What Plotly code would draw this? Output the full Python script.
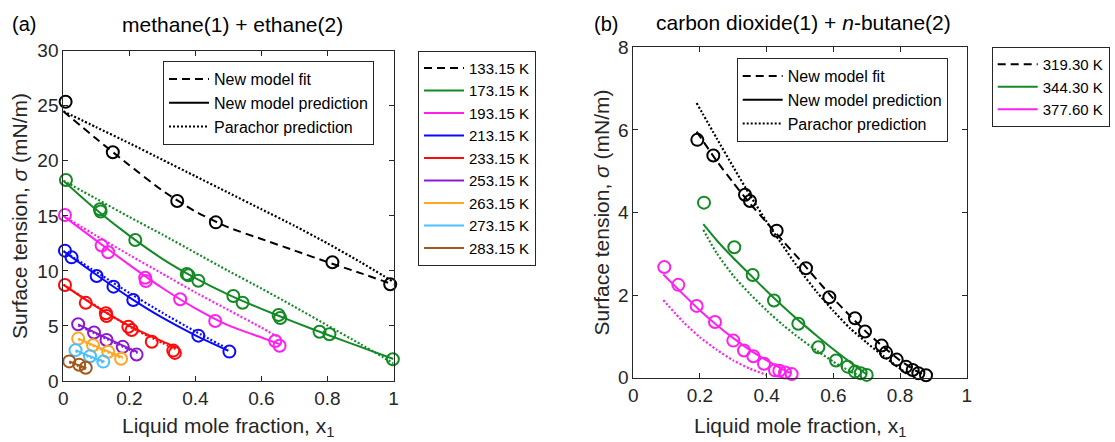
import plotly.graph_objects as go

# ---------------- (a) methane(1) + ethane(2) ----------------
temps_a = ["133.15 K", "173.15 K", "193.15 K", "213.15 K", "233.15 K",
           "253.15 K", "263.15 K", "273.15 K", "283.15 K"]

# experimental points
x133_exp = [0.007, 0.15, 0.345, 0.462, 0.815, 0.99]
s133_exp = [25.37, 20.77, 16.35, 14.41, 10.78, 8.78]
x173_exp = [0.008, 0.111, 0.113, 0.218, 0.374, 0.379, 0.409, 0.515, 0.543, 0.652, 0.657, 0.776, 0.806, 0.998]
s173_exp = [18.26, 15.6, 15.4, 12.8, 9.72, 9.6, 9.1, 7.72, 7.11, 5.99, 5.72, 4.48, 4.24, 1.97]
x193_exp = [0.005, 0.116, 0.136, 0.248, 0.25, 0.354, 0.46, 0.642, 0.655]
s193_exp = [15.08, 12.3, 11.7, 9.38, 9.08, 7.42, 5.45, 3.63, 3.2]
x213_exp = [0.005, 0.025, 0.101, 0.152, 0.212, 0.409, 0.503]
s213_exp = [11.84, 11.23, 9.54, 8.57, 7.36, 4.12, 2.67]
x233_exp = [0.005, 0.068, 0.129, 0.131, 0.197, 0.207, 0.268, 0.333, 0.338]
s233_exp = [8.72, 7.1, 6.15, 5.9, 4.93, 4.63, 3.57, 2.76, 2.55]
x253_exp = [0.045, 0.093, 0.131, 0.18, 0.222]
s253_exp = [5.15, 4.4, 3.72, 3.1, 2.4]
x263_exp = [0.045, 0.09, 0.136, 0.175]
s263_exp = [3.85, 3.25, 2.66, 2.02]
x273_exp = [0.037, 0.081, 0.121]
s273_exp = [2.8, 2.25, 1.76]
x283_exp = [0.018, 0.048, 0.068]
s283_exp = [1.78, 1.48, 1.2]

# model curves (fit at 133.15 K, prediction elsewhere) and Parachor curves
x_full = [0, 0.1, 0.2, 0.3, 0.4, 0.5, 0.6, 0.7, 0.8, 0.9, 1.0]
s133_fit = [24.5, 22.0, 19.6, 17.3, 15.4, 13.95, 12.9, 11.85, 10.8, 9.8, 8.75]
s133_par = [24.5, 23.05, 21.6, 20.1, 18.6, 17.1, 15.6, 14.1, 12.5, 10.8, 9.0]
s173_mod = [18.2, 15.55, 13.2, 11.1, 9.35, 7.85, 6.55, 5.35, 4.2, 3.1, 2.0]
s173_par = [18.2, 16.55, 14.9, 13.3, 11.65, 10.0, 8.4, 6.75, 5.05, 3.35, 1.6]
x193_mod = [0, 0.1, 0.2, 0.3, 0.4, 0.5, 0.6, 0.655]
s193_mod = [15.0, 12.75, 10.55, 8.45, 6.6, 5.05, 3.95, 3.35]
x193_par = [0, 0.1, 0.2, 0.3, 0.4, 0.5, 0.6, 0.647]
s193_par = [15.0, 13.2, 11.45, 9.75, 8.05, 6.45, 4.85, 4.05]
x213_mod = [0, 0.1, 0.2, 0.3, 0.4, 0.5]
s213_mod = [11.8, 9.65, 7.6, 5.75, 4.15, 2.75]
s213_par = [11.8, 9.9, 8.0, 6.2, 4.5, 2.9]
x233_mod = [0, 0.1, 0.2, 0.3, 0.34]
s233_mod = [8.75, 6.75, 5.0, 3.6, 3.1]
s233_par = [8.75, 6.8, 4.95, 3.45, 2.9]
x253_mod = [0.045, 0.1, 0.15, 0.2, 0.225]
s253_mod = [5.15, 4.35, 3.65, 2.95, 2.65]
s253_par = [5.05, 4.25, 3.55, 2.85, 2.55]
x263_mod = [0.045, 0.1, 0.15, 0.18]
s263_mod = [3.85, 3.15, 2.5, 2.15]
s263_par = [3.8, 3.05, 2.4, 2.05]
x273_mod = [0.037, 0.08, 0.125]
s273_mod = [2.8, 2.25, 1.75]
s273_par = [2.7, 2.15, 1.65]
x283_mod = [0.018, 0.045, 0.07]
s283_mod = [1.78, 1.45, 1.18]
s283_par = [1.7, 1.35, 1.05]

# ---------------- (b) carbon dioxide(1) + n-butane(2) ----------------
temps_b = ["319.30 K", "344.30 K", "377.60 K"]

x319_exp = [0.192, 0.24, 0.335, 0.35, 0.43, 0.518, 0.588, 0.665, 0.695, 0.745, 0.758, 0.79, 0.818, 0.838, 0.855, 0.878]
s319_exp = [5.76, 5.38, 4.43, 4.28, 3.56, 2.65, 1.95, 1.44, 1.12, 0.78, 0.61, 0.44, 0.27, 0.19, 0.11, 0.06]
x344_exp = [0.212, 0.303, 0.358, 0.422, 0.495, 0.555, 0.608, 0.643, 0.665, 0.682, 0.70]
s344_exp = [4.24, 3.16, 2.49, 1.87, 1.31, 0.74, 0.42, 0.27, 0.15, 0.11, 0.07]
x377_exp = [0.093, 0.135, 0.19, 0.245, 0.30, 0.332, 0.36, 0.392, 0.425, 0.438, 0.455, 0.475]
s377_exp = [2.68, 2.25, 1.74, 1.35, 0.9, 0.66, 0.52, 0.34, 0.18, 0.17, 0.13, 0.09]

x319_fit = [0.19, 0.25, 0.3, 0.35, 0.4, 0.45, 0.5, 0.55, 0.6, 0.65, 0.7, 0.75, 0.8, 0.85, 0.88]
s319_fit = [5.96, 5.25, 4.72, 4.22, 3.76, 3.3, 2.85, 2.38, 1.92, 1.5, 1.1, 0.75, 0.42, 0.16, 0.04]
x319_par = [0.19, 0.25, 0.3, 0.35, 0.4, 0.45, 0.5, 0.55, 0.6, 0.65, 0.7, 0.75, 0.8, 0.82]
s319_par = [6.65, 5.8, 5.1, 4.42, 3.78, 3.18, 2.6, 2.08, 1.62, 1.2, 0.85, 0.53, 0.22, 0.1]
x344_mod = [0.21, 0.25, 0.3, 0.35, 0.4, 0.45, 0.5, 0.55, 0.6, 0.65, 0.7]
s344_mod = [3.72, 3.33, 2.9, 2.5, 2.1, 1.72, 1.36, 1.02, 0.69, 0.38, 0.08]
x344_par = [0.21, 0.25, 0.3, 0.35, 0.4, 0.45, 0.5, 0.55, 0.6, 0.65, 0.68]
s344_par = [3.58, 3.02, 2.47, 2.03, 1.63, 1.27, 0.95, 0.66, 0.39, 0.16, 0.05]
x377_mod = [0.09, 0.15, 0.2, 0.25, 0.3, 0.35, 0.4, 0.45, 0.47]
s377_mod = [2.5, 2.02, 1.63, 1.28, 0.96, 0.67, 0.42, 0.2, 0.12]
x377_par = [0.09, 0.15, 0.2, 0.25, 0.3, 0.35, 0.4]
s377_par = [1.88, 1.35, 0.98, 0.68, 0.42, 0.22, 0.07]

# ---------------- styling ----------------
FONT = "Arial, 'Liberation Sans', Helvetica, sans-serif"
AX = "#262626"
C = {
    "black": "#000000", "green": "#138a25", "magenta": "#ff1ff0", "blue": "#0a0aff",
    "red": "#ff0a0a", "purple": "#8c1ad2", "orange": "#ffa622", "cyan": "#4cc0ff",
    "brown": "#a3581a",
}
DASH = "8px,5px"
DOT = "2px,2px"
LW = 2

fig = go.Figure()


def add_series(xa, ya, xe, se, xm, sm, xp, sp, color, name, legend, fit=False):
    # model line (carries the temperature legend entry)
    fig.add_trace(go.Scatter(
        x=xm, y=sm, xaxis=xa, yaxis=ya, mode="lines", name=name, legend=legend,
        line=dict(color=color, width=LW, dash=DASH if fit else "solid", shape="spline", smoothing=0.6),
        showlegend=True, hoverinfo="skip"))
    # Parachor prediction
    fig.add_trace(go.Scatter(
        x=xp, y=sp, xaxis=xa, yaxis=ya, mode="lines", showlegend=False,
        line=dict(color=color, width=2.2, dash=DOT, shape="spline", smoothing=0.6), hoverinfo="skip"))
    # experimental data
    fig.add_trace(go.Scatter(
        x=xe, y=se, xaxis=xa, yaxis=ya, mode="markers", showlegend=False, cliponaxis=False,
        marker=dict(symbol="circle-open", size=12, color=color, line=dict(width=2, color=color)),
        hoverinfo="skip"))


series_a = [
    (x133_exp, s133_exp, x_full, s133_fit, x_full, s133_par, C["black"], True),
    (x173_exp, s173_exp, x_full, s173_mod, x_full, s173_par, C["green"], False),
    (x193_exp, s193_exp, x193_mod, s193_mod, x193_par, s193_par, C["magenta"], False),
    (x213_exp, s213_exp, x213_mod, s213_mod, x213_mod, s213_par, C["blue"], False),
    (x233_exp, s233_exp, x233_mod, s233_mod, x233_mod, s233_par, C["red"], False),
    (x253_exp, s253_exp, x253_mod, s253_mod, x253_mod, s253_par, C["purple"], False),
    (x263_exp, s263_exp, x263_mod, s263_mod, x263_mod, s263_par, C["orange"], False),
    (x273_exp, s273_exp, x273_mod, s273_mod, x273_mod, s273_par, C["cyan"], False),
    (x283_exp, s283_exp, x283_mod, s283_mod, x283_mod, s283_par, C["brown"], False),
]
for name, (xe, se, xm, sm, xp, sp, col, fit) in zip(temps_a, series_a):
    add_series("x", "y", xe, se, xm, sm, xp, sp, col, name, "legend2", fit)

series_b = [
    (x319_exp, s319_exp, x319_fit, s319_fit, x319_par, s319_par, C["black"], True),
    (x344_exp, s344_exp, x344_mod, s344_mod, x344_par, s344_par, C["green"], False),
    (x377_exp, s377_exp, x377_mod, s377_mod, x377_par, s377_par, C["magenta"], False),
]
for name, (xe, se, xm, sm, xp, sp, col, fit) in zip(temps_b, series_b):
    add_series("x2", "y2", xe, se, xm, sm, xp, sp, col, name, "legend4", fit)

# line-style keys
style_names = ["New model fit", "New model prediction", "Parachor prediction"]
style_dash = [DASH, "solid", DOT]
for xa, ya, lg in (("x", "y", "legend"), ("x2", "y2", "legend3")):
    for nm, ds in zip(style_names, style_dash):
        fig.add_trace(go.Scatter(x=[None], y=[None], xaxis=xa, yaxis=ya, mode="lines", name=nm,
                                 legend=lg, line=dict(color="black", width=LW, dash=ds)))

W, H = 1115, 442


def px(v):
    return v / W


def py(v):
    return (H - v) / H


def axis(domain, rng, dtick, anchor):
    return dict(domain=domain, range=rng, dtick=dtick, tick0=0, anchor=anchor,
                showgrid=False, zeroline=False, showline=True, linecolor=AX, linewidth=1,
                mirror="ticks", ticks="inside", ticklen=5, tickwidth=1, tickcolor=AX,
                tickfont=dict(family=FONT, size=19, color=AX))


def legend_style(size):
    return dict(xref="paper", yref="paper", xanchor="left", yanchor="top",
                bgcolor="white", bordercolor=AX, borderwidth=1, tracegroupgap=0,
                itemwidth=40, font=dict(family=FONT, size=size, color="black"),
                itemclick=False, itemdoubleclick=False)


fig.update_layout(
    width=W, height=H, autosize=False,
    margin=dict(l=0, r=0, t=0, b=0, autoexpand=False),
    paper_bgcolor="white", plot_bgcolor="white",
    font=dict(family=FONT, color=AX),
    xaxis=axis([px(63.3), px(393.5)], [0, 1], 0.2, "y"),
    yaxis=axis([py(381), py(50.7)], [0, 30], 5, "x"),
    xaxis2=axis([px(633.3), px(966.7)], [0, 1], 0.2, "y2"),
    yaxis2=axis([py(377.8), py(47.3)], [0, 8], 2, "x2"),
    legend=dict(x=px(163), y=py(61), **legend_style(16)),
    legend2=dict(x=px(418), y=py(50.7), **legend_style(15)),
    legend3=dict(x=px(736.7), y=py(58), **legend_style(16)),
    legend4=dict(x=px(991.7), y=py(47), **legend_style(15)),
)

ann = []


def text(x, y, t, size=21, color="black", xanchor="center", angle=0):
    ann.append(dict(x=x, y=y, xref="paper", yref="paper", text=t, showarrow=False,
                    xanchor=xanchor, yanchor="middle", textangle=angle,
                    font=dict(family=FONT, size=size, color=color)))


text(px(10), py(24), "(a)", xanchor="left", size=20)
text(px(591.7), py(24), "(b)", xanchor="left", size=20)
text(px(232), py(24), "methane(1) + ethane(2)")
text(px(803), py(22), "carbon dioxide(1) + <i>n</i>-butane(2)")
text(px(228.5), py(427), "Liquid mole fraction, x<sub>1</sub>", color=AX)
text(px(800), py(427), "Liquid mole fraction, x<sub>1</sub>", color=AX)
text(px(19), py(216), "Surface tension, <i>σ</i> (mN/m)", color=AX, angle=-90)
text(px(601), py(212.5), "Surface tension, <i>σ</i> (mN/m)", color=AX, angle=-90)
fig.update_layout(annotations=ann)

fig.write_html("out.html")
